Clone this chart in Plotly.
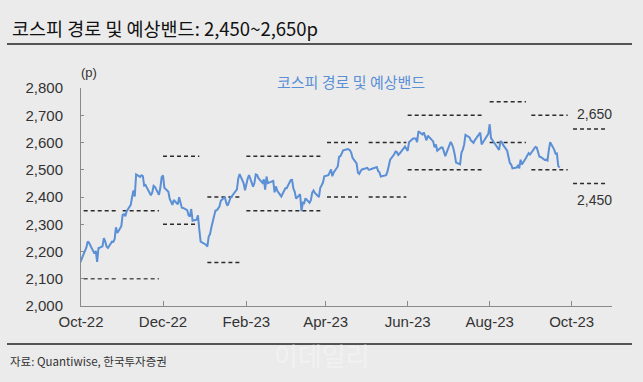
import plotly.graph_objects as go

# ---------------- data ----------------
dates = [
    "2022-09-30",
    "2022-10-04", "2022-10-05", "2022-10-06", "2022-10-07", "2022-10-11", "2022-10-12", "2022-10-13",
    "2022-10-14", "2022-10-17", "2022-10-18", "2022-10-19", "2022-10-20", "2022-10-21", "2022-10-24",
    "2022-10-25", "2022-10-26", "2022-10-27", "2022-10-28", "2022-10-31",
    "2022-11-01", "2022-11-02", "2022-11-03", "2022-11-04", "2022-11-07", "2022-11-08", "2022-11-09",
    "2022-11-10", "2022-11-11", "2022-11-14", "2022-11-15", "2022-11-16", "2022-11-17", "2022-11-18",
    "2022-11-21", "2022-11-22", "2022-11-23", "2022-11-24", "2022-11-25", "2022-11-28", "2022-11-29",
    "2022-11-30",
    "2022-12-01", "2022-12-02", "2022-12-05", "2022-12-06", "2022-12-07", "2022-12-08", "2022-12-09",
    "2022-12-12", "2022-12-13", "2022-12-14", "2022-12-15", "2022-12-16", "2022-12-19", "2022-12-20",
    "2022-12-21", "2022-12-22", "2022-12-23", "2022-12-26", "2022-12-27", "2022-12-28", "2022-12-29",
    "2023-01-02", "2023-01-03", "2023-01-04", "2023-01-05", "2023-01-06", "2023-01-09", "2023-01-10",
    "2023-01-11", "2023-01-12", "2023-01-13", "2023-01-16", "2023-01-17", "2023-01-18", "2023-01-19",
    "2023-01-20", "2023-01-25", "2023-01-26", "2023-01-27", "2023-01-30", "2023-01-31",
    "2023-02-01", "2023-02-02", "2023-02-03", "2023-02-06", "2023-02-07", "2023-02-08", "2023-02-09",
    "2023-02-10", "2023-02-13", "2023-02-14", "2023-02-15", "2023-02-16", "2023-02-17", "2023-02-20",
    "2023-02-21", "2023-02-22", "2023-02-23", "2023-02-24", "2023-02-27", "2023-02-28",
    "2023-03-02", "2023-03-03", "2023-03-06", "2023-03-07", "2023-03-08", "2023-03-09", "2023-03-10",
    "2023-03-13", "2023-03-14", "2023-03-15", "2023-03-16", "2023-03-17", "2023-03-20", "2023-03-21",
    "2023-03-22", "2023-03-23", "2023-03-24", "2023-03-27", "2023-03-28", "2023-03-29", "2023-03-30",
    "2023-03-31",
    "2023-04-03", "2023-04-04", "2023-04-05", "2023-04-06", "2023-04-07", "2023-04-10", "2023-04-11",
    "2023-04-12", "2023-04-13", "2023-04-14", "2023-04-17", "2023-04-18", "2023-04-19", "2023-04-20",
    "2023-04-21", "2023-04-24", "2023-04-25", "2023-04-26", "2023-04-27", "2023-04-28",
    "2023-05-02", "2023-05-03", "2023-05-04", "2023-05-08", "2023-05-09", "2023-05-10", "2023-05-11",
    "2023-05-12", "2023-05-15", "2023-05-16", "2023-05-17", "2023-05-18", "2023-05-19", "2023-05-22",
    "2023-05-23", "2023-05-24", "2023-05-25", "2023-05-26", "2023-05-30", "2023-05-31",
    "2023-06-01", "2023-06-02", "2023-06-05", "2023-06-07", "2023-06-08", "2023-06-09", "2023-06-12",
    "2023-06-13", "2023-06-14", "2023-06-15", "2023-06-16", "2023-06-19", "2023-06-20", "2023-06-21",
    "2023-06-22", "2023-06-23", "2023-06-26", "2023-06-27", "2023-06-28", "2023-06-29", "2023-06-30",
    "2023-07-03", "2023-07-04", "2023-07-05", "2023-07-06", "2023-07-07", "2023-07-10", "2023-07-11",
    "2023-07-12", "2023-07-13", "2023-07-14", "2023-07-17", "2023-07-18", "2023-07-19", "2023-07-20",
    "2023-07-21", "2023-07-24", "2023-07-25", "2023-07-26", "2023-07-27", "2023-07-28", "2023-07-31",
    "2023-08-01", "2023-08-02", "2023-08-03", "2023-08-04", "2023-08-07", "2023-08-08", "2023-08-09",
    "2023-08-10", "2023-08-11", "2023-08-14", "2023-08-16", "2023-08-17", "2023-08-18", "2023-08-21",
    "2023-08-22", "2023-08-23", "2023-08-24", "2023-08-25", "2023-08-28", "2023-08-29", "2023-08-30",
    "2023-08-31",
    "2023-09-01", "2023-09-04", "2023-09-05", "2023-09-06", "2023-09-07", "2023-09-08", "2023-09-11",
    "2023-09-12", "2023-09-13", "2023-09-14", "2023-09-15", "2023-09-18", "2023-09-19", "2023-09-20",
    "2023-09-21", "2023-09-22",
]

kospi = [
    2155,
    2209, 2215, 2237, 2232, 2192, 2202, 2162,
    2212, 2219, 2249, 2237, 2218, 2213, 2236,
    2235, 2245, 2289, 2268, 2293,
    2335, 2337, 2329, 2348, 2371, 2399, 2424,
    2402, 2483, 2474, 2480, 2477, 2442, 2444,
    2419, 2406, 2417, 2441, 2437, 2408, 2433,
    2473,
    2479, 2434, 2419, 2393, 2382, 2371, 2389,
    2373, 2399, 2373, 2361, 2360, 2352, 2333,
    2328, 2356, 2313, 2317, 2333, 2280, 2236,
    2225, 2218, 2255, 2264, 2289, 2350, 2351,
    2360, 2365, 2386, 2400, 2379, 2368, 2380,
    2395, 2428, 2468, 2484, 2450, 2425,
    2449, 2468, 2480, 2438, 2451, 2483, 2481,
    2469, 2452, 2465, 2427, 2475, 2451, 2455,
    2459, 2417, 2439, 2423, 2402, 2412,
    2432, 2432, 2462, 2463, 2431, 2419, 2394,
    2410, 2348, 2379, 2377, 2395, 2379, 2388,
    2416, 2424, 2415, 2400, 2434, 2443, 2453,
    2476,
    2480, 2490, 2501, 2476, 2490, 2512, 2548,
    2550, 2561, 2571, 2575, 2575, 2572, 2563,
    2544, 2523, 2489, 2485, 2495, 2501,
    2507, 2500, 2501, 2509, 2510, 2496, 2491,
    2475, 2479, 2480, 2494, 2515, 2537, 2557,
    2567, 2565, 2554, 2559, 2585, 2577,
    2569, 2601, 2615, 2615, 2601, 2641, 2629,
    2637, 2619, 2608, 2625, 2609, 2604, 2582,
    2593, 2570, 2582, 2581, 2564, 2550, 2564,
    2602, 2593, 2579, 2556, 2526, 2520, 2562,
    2574, 2592, 2628, 2619, 2608, 2605, 2599,
    2609, 2630, 2636, 2593, 2603, 2608, 2632,
    2667, 2616, 2606, 2602, 2580, 2573, 2605,
    2601, 2591, 2570, 2525, 2519, 2505, 2508,
    2515, 2505, 2537, 2519, 2543, 2552, 2561,
    2556,
    2563, 2584, 2582, 2564, 2548, 2547, 2536,
    2537, 2534, 2572, 2601, 2574, 2559, 2560,
    2514, 2508,
]

# expected band (upper / lower) for each period
band_start = ["2022-10-03", "2022-11-01", "2022-12-01", "2023-01-03", "2023-02-01", "2023-04-02",
              "2023-05-03", "2023-06-01", "2023-08-01", "2023-09-01", "2023-10-02"]
band_end = ["2022-10-27", "2022-11-28", "2022-12-28", "2023-01-29", "2023-03-30", "2023-04-25",
            "2023-05-31", "2023-07-26", "2023-08-28", "2023-09-28", "2023-10-26"]
band_upper = [2350, 2350, 2550, 2400, 2550, 2600, 2600, 2700, 2750, 2700, 2650]
band_lower = [2100, 2100, 2300, 2160, 2350, 2400, 2400, 2500, 2600, 2500, 2450]

y_ticks = [2000, 2100, 2200, 2300, 2400, 2500, 2600, 2700, 2800]
x_ticks = ["2022-10-01", "2022-12-01", "2023-02-01", "2023-04-01", "2023-06-01", "2023-08-01", "2023-10-01"]

title_text = "코스피 경로 및 예상밴드: 2,450~2,650p"
legend_text = "코스피 경로 및 예상밴드"
source_text = "자료: Quantiwise, 한국투자증권"
forecast_high_label = "2,650"
forecast_low_label = "2,450"
watermark_text = "이데일리"

# ---------------- styles ----------------
BG = "#ebebeb"
LINE_BLUE = "#5b8fd6"
DASH_COLOR = "#2b2b2b"
AXIS_GRAY = "#8a8a8a"
TEXT = "#333333"
KFONT = "Noto Sans CJK KR"
LFONT = "Liberation Sans, Arial, sans-serif"

# plot area in pixels
PL, PR, PT, PB = 81, 612, 88, 306
PW, PH = PR - PL, PB - PT


def px_x(px):
    return (px - PL) / PW


def px_y(py):
    return (PB - py) / PH


fig = go.Figure()

# band dashed segments
for i in range(len(band_start)):
    for val, col in ((band_upper[i], DASH_COLOR), (band_lower[i], DASH_COLOR if i > 1 else "#555555")):
        fig.add_trace(go.Scatter(
            x=[band_start[i], band_end[i]], y=[val, val], mode="lines",
            line=dict(color=col, width=1.5, dash="4px,3px"),
            hoverinfo="skip", showlegend=False,
        ))

fig.add_trace(go.Scatter(
    x=dates, y=kospi, mode="lines",
    line=dict(color=LINE_BLUE, width=2),
    name=legend_text, showlegend=False,
))

fig.update_layout(
    width=643, height=382,
    paper_bgcolor=BG, plot_bgcolor=BG,
    margin=dict(l=PL, r=643 - PR, t=PT, b=382 - PB),
    font=dict(family=LFONT, color=TEXT, size=15),
    xaxis=dict(
        type="date", range=["2022-10-01", "2023-10-31"],
        tickvals=x_ticks, tickformat="%b-%y",
        ticks="inside", ticklen=5, tickcolor=AXIS_GRAY,
        showline=True, linecolor=AXIS_GRAY, linewidth=1,
        showgrid=False, zeroline=False,
        tickfont=dict(family=LFONT, size=15, color=TEXT),
        ticklabelstandoff=2,
    ),
    yaxis=dict(
        range=[2000, 2800], tickvals=y_ticks, tickformat=",d",
        ticks="inside", ticklen=3, tickcolor=AXIS_GRAY,
        showline=True, linecolor=AXIS_GRAY, linewidth=1,
        showgrid=False, zeroline=False,
        tickfont=dict(family=LFONT, size=15, color=TEXT),
        ticklabelstandoff=14,
    ),
    showlegend=False,
)

annotations = [
    dict(text=watermark_text, xref="paper", yref="paper", x=px_x(322), y=px_y(354),
         xanchor="center", yanchor="middle", showarrow=False,
         font=dict(family=KFONT, size=26, color="rgba(255,255,255,0.35)")),
    dict(text=title_text, xref="paper", yref="paper", x=px_x(10), y=px_y(28),
         xanchor="left", yanchor="middle", showarrow=False,
         font=dict(family=KFONT, size=18.5, color="#111111")),
    dict(text="(p)", xref="paper", yref="paper", x=px_x(89), y=px_y(72),
         xanchor="center", yanchor="middle", showarrow=False,
         font=dict(family=LFONT, size=13, color=TEXT)),
    dict(text=legend_text, xref="paper", yref="paper", x=px_x(351), y=px_y(82),
         xanchor="center", yanchor="middle", showarrow=False,
         font=dict(family=KFONT, size=15, color=LINE_BLUE)),
    dict(text=forecast_high_label, xref="x", yref="y", x="2023-10-18", y=2705,
         xanchor="center", yanchor="middle", showarrow=False,
         font=dict(family=LFONT, size=14, color=TEXT)),
    dict(text=forecast_low_label, xref="x", yref="y", x="2023-10-18", y=2390,
         xanchor="center", yanchor="middle", showarrow=False,
         font=dict(family=LFONT, size=14, color=TEXT)),
    dict(text=source_text, xref="paper", yref="paper", x=px_x(8), y=px_y(361),
         xanchor="left", yanchor="middle", showarrow=False,
         font=dict(family=KFONT, size=11.5, color=TEXT)),
]
fig.update_layout(annotations=annotations)

fig.update_layout(shapes=[
    dict(type="line", xref="paper", yref="paper", x0=px_x(7), x1=px_x(632),
         y0=px_y(44), y1=px_y(44), line=dict(color="#222222", width=1.5)),
    dict(type="line", xref="paper", yref="paper", x0=px_x(7), x1=px_x(632),
         y0=px_y(344), y1=px_y(344), line=dict(color="#222222", width=1.5)),
])

fig.write_html(
    "out.html",
    config={"displayModeBar": False},
    post_script="document.body.style.margin='0';document.body.style.background='%s';" % BG,
)
